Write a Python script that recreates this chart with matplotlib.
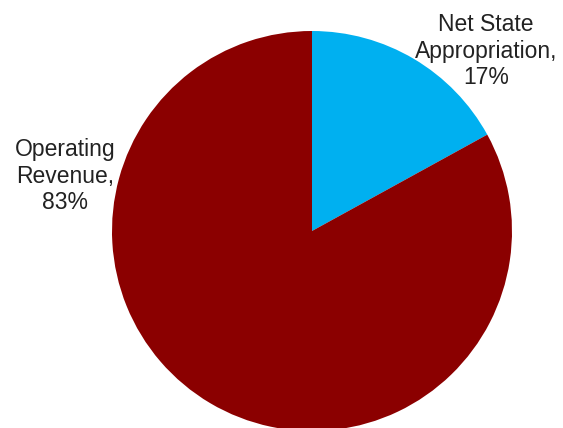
import matplotlib.pyplot as plt

labels = ["Net State\nAppropriation,\n17%", "Operating\nRevenue,\n83%"]
shares = [17, 83]
colors = ["#00B0F0", "#8B0000"]

W, H = 563, 428
fig = plt.figure(figsize=(W / 100, H / 100), dpi=100)
ax = fig.add_axes([0, 0, 1, 1])

ax.pie(shares, colors=colors, startangle=90, counterclock=False,
       center=(312, 197), radius=200, frame=True)
ax.set_xlim(0, W)
ax.set_ylim(0, H)
ax.set_aspect("equal")
ax.axis("off")

label_pos = [(486, 377), (65, 252)]
for text, (x, y) in zip(labels, label_pos):
    ax.text(x, y, text, ha="center", va="center", fontsize=16.5,
            family="Liberation Sans", color="#222222", linespacing=1.2)

fig.savefig("out.png", dpi=100)
